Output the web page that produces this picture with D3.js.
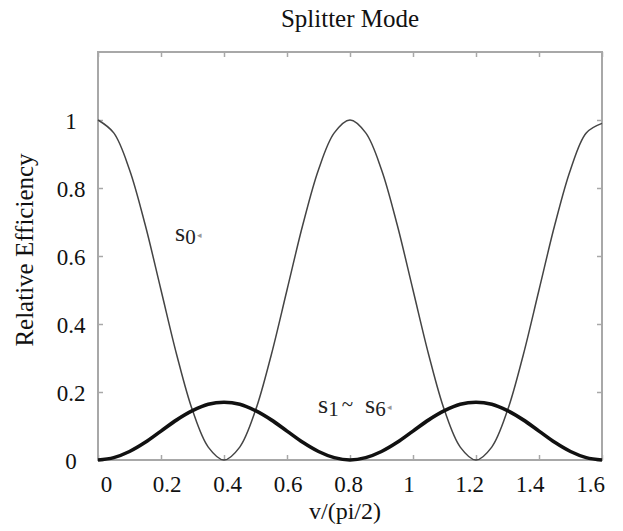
<!DOCTYPE html>
<html>
<head>
<meta charset="utf-8">
<script src="https://cdn.jsdelivr.net/npm/d3@7"></script>
</head>
<body style="margin:0;background:#fff">
<svg id="chart" width="623" height="531"></svg>
<script>
// ---- data ----
const xValues = [0,0.05,0.1,0.15,0.2,0.25,0.3,0.35,0.4,0.45,0.5,0.55,0.6,0.65,0.7,0.75,0.8,
                 0.85,0.9,0.95,1.0,1.05,1.1,1.15,1.2,1.25,1.3,1.35,1.4,1.45,1.5,1.55,1.6];
const s0Values = [1,0.962,0.854,0.691,0.5,0.309,0.146,0.038,0,0.038,0.146,0.309,0.5,0.691,0.854,0.962,1,
                  0.962,0.854,0.691,0.5,0.309,0.146,0.038,0,0.038,0.146,0.309,0.5,0.691,0.854,0.962,0.99];
const s16Values = [0,0.007,0.025,0.052,0.085,0.118,0.145,0.164,0.17,0.164,0.145,0.118,0.085,0.052,0.025,0.007,0,
                   0.007,0.025,0.052,0.085,0.118,0.145,0.164,0.17,0.164,0.145,0.118,0.085,0.052,0.025,0.007,0];
const xTicks = [0,0.2,0.4,0.6,0.8,1,1.2,1.4,1.6];
const xTickLabels = ["0","0.2","0.4","0.6","0.8","1","1.2","1.4","1.6"];
const yTicks = [0,0.2,0.4,0.6,0.8,1];
const yTickLabels = ["0","0.2","0.4","0.6","0.8","1"];
const titleText = "Splitter Mode";
const xTitle = "v/(pi/2)";
const yTitle = "Relative Efficiency";

// ---- layout ----
const FONT = "Liberation Serif";
const svg = d3.select("#chart");
const L = 98, R = 602, T = 52, B = 460;
const x = d3.scaleLinear().domain([0, 1.6]).range([L, R]);
const y = d3.scaleLinear().domain([0, 1.2]).range([B, T]);
// tick labels in the reference sit slightly off the tick marks
const xLab = d3.scaleLinear().domain([0, 1.6]).range([106, 590]);
const frameColor = "#a8a8a8";

svg.append("rect")
  .attr("x", L).attr("y", T).attr("width", R - L).attr("height", B - T)
  .attr("fill", "none").attr("stroke", frameColor).attr("stroke-width", 2);

function styleTicks(g) {
  g.select(".domain").remove();
  g.selectAll(".tick line").attr("stroke", frameColor).attr("stroke-width", 1.5);
  g.selectAll(".tick text").remove();
}
svg.append("g").attr("transform", `translate(0,${B})`)
  .call(d3.axisBottom(x).tickValues(xTicks).tickSize(-5)).call(styleTicks);
svg.append("g").attr("transform", `translate(0,${T})`)
  .call(d3.axisTop(x).tickValues(xTicks).tickSize(-5)).call(styleTicks);
svg.append("g").attr("transform", `translate(${L},0)`)
  .call(d3.axisLeft(y).tickValues(yTicks).tickSize(-5)).call(styleTicks);
svg.append("g").attr("transform", `translate(${R},0)`)
  .call(d3.axisRight(y).tickValues(yTicks).tickSize(-5)).call(styleTicks);

const xl = svg.append("g").attr("transform", `translate(0,${B + 32})`)
  .call(d3.axisBottom(xLab).tickValues(xTicks).tickSize(0).tickPadding(0)
        .tickFormat((d, i) => xTickLabels[i]));
xl.select(".domain").remove();
xl.selectAll(".tick text").attr("dy", 0).attr("y", 0).attr("fill", "#111")
  .attr("font-family", FONT).attr("font-size", 23);

const yl = svg.append("g").attr("transform", `translate(71,0)`)
  .call(d3.axisLeft(y).tickValues(yTicks).tickSize(0).tickPadding(0)
        .tickFormat((d, i) => yTickLabels[i]));
yl.select(".domain").remove();
yl.selectAll(".tick text").attr("x", 0).attr("dy", "0.38em").attr("text-anchor", "middle")
  .attr("fill", "#111").attr("font-family", FONT).attr("font-size", 23);

svg.append("text").attr("x", 350).attr("y", 27).attr("text-anchor", "middle")
  .attr("fill", "#111").attr("font-family", FONT).attr("font-size", 25).text(titleText);
svg.append("text").attr("x", 345).attr("y", 519).attr("text-anchor", "middle")
  .attr("fill", "#111").attr("font-family", FONT).attr("font-size", 24).text(xTitle);
svg.append("text").attr("transform", "translate(33,250) rotate(-90)").attr("text-anchor", "middle")
  .attr("fill", "#111").attr("font-family", FONT).attr("font-size", 25).text(yTitle);

// curves
const pts0 = xValues.map((v, i) => [v, s0Values[i]]);
const pts16 = xValues.map((v, i) => [v, s16Values[i]]);
const line = d3.line().x(d => x(d[0])).y(d => y(d[1])).curve(d3.curveCatmullRom.alpha(0.5));
svg.append("path").datum(pts0).attr("d", line)
  .attr("fill", "none").attr("stroke", "#444").attr("stroke-width", 1.5);
svg.append("path").datum(pts16).attr("d", line)
  .attr("fill", "none").attr("stroke", "#111").attr("stroke-width", 3.6).attr("stroke-linejoin", "round");

// curve annotations
const a0 = svg.append("text").attr("x", 175).attr("y", 241).attr("fill", "#222").attr("font-family", FONT);
a0.append("tspan").attr("font-size", 26).text("s");
a0.append("tspan").attr("font-size", 21).attr("dy", 3).text("0");
a0.append("tspan").attr("font-size", 9).attr("fill", "#999").attr("dx", 1).attr("dy", -6).text("◂");

const a1 = svg.append("text").attr("x", 318).attr("y", 413).attr("fill", "#222").attr("font-family", FONT);
a1.append("tspan").attr("font-size", 26).text("s");
a1.append("tspan").attr("font-size", 21).attr("dy", 3).text("1");
a1.append("tspan").attr("font-size", 21).attr("dx", 3).attr("dy", -5).text("~");
a1.append("tspan").attr("font-size", 26).attr("dx", 12).attr("dy", 2).text("s");
a1.append("tspan").attr("font-size", 21).attr("dy", 3).text("6");
a1.append("tspan").attr("font-size", 9).attr("fill", "#999").attr("dx", 1).attr("dy", -6).text("◂");
</script>
</body>
</html>
